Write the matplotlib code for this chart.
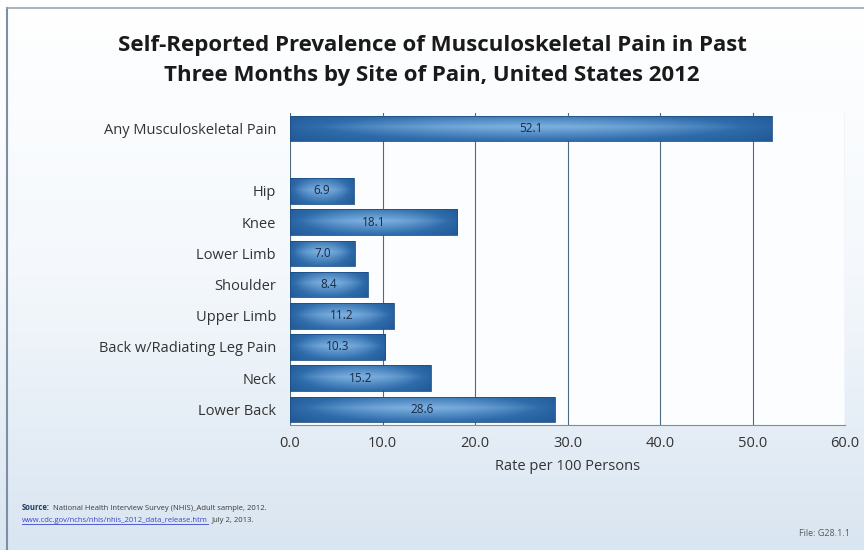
import numpy as np
import matplotlib.pyplot as plt
from matplotlib.patches import Rectangle
from matplotlib.colors import LinearSegmentedColormap

# rates per 100 persons, top to bottom ("" is an empty spacer row)
sites = ["Any Musculoskeletal Pain", "", "Hip", "Knee", "Lower Limb", "Shoulder",
         "Upper Limb", "Back w/Radiating Leg Pain", "Neck", "Lower Back"]
rates = [52.1, None, 6.9, 18.1, 7.0, 8.4, 11.2, 10.3, 15.2, 28.6]
xticks = [0, 10, 20, 30, 40, 50, 60]

plt.rcParams['font.family'] = ['Open Sans', 'DejaVu Sans']

fig = plt.figure(figsize=(8.64, 5.5), dpi=100)

# slide background: white fading to pale blue
bg = fig.add_axes([0, 0, 1, 1], zorder=-10)
grad = np.linspace(0, 1, 256)[:, None]
bg.imshow(grad, aspect='auto', extent=[0, 1, 0, 1], origin='upper',
          cmap=LinearSegmentedColormap.from_list('bg', ['#ffffff', '#f4f8fc', '#d9e5f1']))
bg.plot([0.008, 0.008], [0, 0.985], color='#7f8fa3', lw=1.5)
bg.plot([0.008, 1], [0.985, 0.985], color='#9aa6b4', lw=1.2)
bg.set_xlim(0, 1)
bg.set_ylim(0, 1)
bg.axis('off')

ax = fig.add_axes([290 / 864, 1 - 425 / 550, 555 / 864, 312 / 550])
ax.set_facecolor('#fbfdff')

n = len(sites)
ypos = np.arange(n)
bar_h = 0.82

cmap = LinearSegmentedColormap.from_list('bar', ['#1a4f8c', '#2f6cab', '#7cb0e0'])
gx = np.linspace(0, 1, 200)
gy = np.linspace(0, 1, 40)
# lighter toward the middle of the bar, darker at the ends and edges
shade_x = np.sin(gx * np.pi) ** 0.8
shade_y = 1 - 0.45 * np.abs(gy - 0.45) * 2
shade = shade_y[:, None] * (0.35 + 0.65 * shade_x[None, :])

for y, v in zip(ypos, rates):
    if v is None:
        continue
    rect = Rectangle((0, y - bar_h / 2), v, bar_h, facecolor='none',
                     edgecolor='#1c4f85', lw=0.6, zorder=3)
    ax.add_patch(rect)
    im = ax.imshow(shade, cmap=cmap, vmin=0, vmax=1, aspect='auto',
                   extent=[0, v, y + bar_h / 2, y - bar_h / 2], zorder=2,
                   interpolation='bilinear')
    im.set_clip_path(rect)
    ax.text(v / 2, y, f"{v:.1f}", ha='center', va='center', fontsize=8.5,
            color='#1a2a44', zorder=4)

ax.set_xlim(0, 60)
ax.set_ylim(n - 0.5, -0.5)
ax.set_yticks(ypos)
ax.set_yticklabels(sites, fontsize=10.5, color='#333333')
ax.set_xticks(xticks)
ax.set_xticklabels([f"{t:.1f}" for t in xticks], fontsize=10.5, color='#333333')
ax.tick_params(length=0, pad=8)
ax.tick_params(axis='y', pad=10)
ax.grid(axis='x', color='#4f6a84', lw=0.8, zorder=1)
ax.set_axisbelow(True)
for s in ['top', 'right', 'left']:
    ax.spines[s].set_visible(False)
ax.spines['bottom'].set_color('#8a8a8a')
ax.set_xlabel("Rate per 100 Persons", fontsize=10.5, color='#333333', labelpad=6)

fig.text(0.5, 1 - 45 / 550, "Self-Reported Prevalence of Musculoskeletal Pain in Past",
         ha='center', va='center', fontsize=16, fontweight='bold', color='#1a1a1a')
fig.text(0.5, 1 - 76 / 550, "Three Months by Site of Pain, United States 2012",
         ha='center', va='center', fontsize=16, fontweight='bold', color='#1a1a1a')

fig.text(22 / 864, 1 - 508 / 550, "Source:", fontsize=5.5, fontweight='bold',
         color='#1f3a5f', va='center')
fig.text(53 / 864, 1 - 508 / 550, "National Health Interview Survey (NHIS)_Adult sample, 2012.",
         fontsize=5.5, color='#3a3a3a', va='center')
link = fig.text(22 / 864, 1 - 521 / 550, "www.cdc.gov/nchs/nhis/nhis_2012_data_release.htm",
                fontsize=5.5, color='#3b47c8', va='center')
fig.canvas.draw()
bb = link.get_window_extent().transformed(fig.transFigure.inverted())
bg.plot([bb.x0, bb.x1], [bb.y0 + 0.001, bb.y0 + 0.001], color='#3b47c8', lw=0.6)
fig.text(bb.x1 + 4 / 864, 1 - 521 / 550, "July 2, 2013.", fontsize=5.5,
         color='#3a3a3a', va='center')
fig.text(850 / 864, 1 - 534 / 550, "File: G28.1.1", fontsize=6.5, color='#5a5a5a',
         ha='right', va='center')

fig.savefig('out.png', dpi=100)
